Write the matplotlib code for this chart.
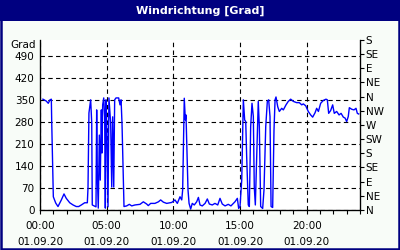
import matplotlib
matplotlib.use("Agg")
import matplotlib.pyplot as plt
from matplotlib.patches import Rectangle

# wind direction over the day (hours, degrees)
hours = [0.22, 0.47, 0.62, 0.75, 0.85, 0.88, 1.0, 1.18, 1.35, 1.6, 1.8, 1.97, 2.23,
         2.48, 2.72, 2.9, 3.1, 3.35, 3.55, 3.6, 3.67, 3.8, 3.88, 3.92, 4.2, 4.25,
         4.3, 4.37, 4.45, 4.52, 4.6, 4.65, 4.7, 4.78, 4.85, 4.9, 4.95, 5.02, 5.1,
         5.17, 5.3, 5.38, 5.45, 5.53, 5.6, 5.7, 5.9, 6.0, 6.08, 6.15, 6.3, 6.5,
         6.7, 6.88, 7.12, 7.5, 7.75, 8.0, 8.12, 8.3, 8.62, 8.88, 9.05, 9.25, 9.5,
         9.75, 9.88, 10.12, 10.3, 10.5, 10.63, 10.7, 10.82, 10.9, 10.95, 11.02,
         11.1, 11.18, 11.3, 11.42, 11.57, 11.75, 11.88, 12.0, 12.17, 12.38, 12.55,
         12.7, 12.92, 13.12, 13.33, 13.5, 13.67, 13.88, 14.12, 14.32, 14.5, 14.62,
         14.8, 14.9, 15.0, 15.13, 15.25, 15.35, 15.43, 15.5, 15.62, 15.7, 15.8,
         15.9, 16.0, 16.07, 16.15, 16.25, 16.37, 16.45, 16.55, 16.7, 16.8, 16.93,
         17.05, 17.15, 17.25, 17.33, 17.45, 17.55, 17.63, 17.7, 17.83, 17.95,
         18.13, 18.25, 18.45, 18.62, 18.8, 19.0, 19.25, 19.45, 19.63, 19.75,
         19.93, 20.12, 20.3, 20.45, 20.63, 20.75, 20.88, 21.05, 21.25, 21.45,
         21.55, 21.65, 21.8, 21.95, 22.07, 22.25, 22.43, 22.58, 22.75, 22.88,
         23.0, 23.12, 23.2, 23.38, 23.55, 23.7, 23.8, 23.9]
direction = [352, 346, 339, 350, 352, 277, 42, 22, 11, 32, 51, 37, 23,
             16, 11, 11, 16, 23, 23, 70, 308, 350, 276, 16, 10, 318,
             111, 6, 238, 95, 318, 181, 334, 356, 296, 6, 350, 245, 10,
             356, 276, 73, 296, 73, 350, 356, 356, 334, 350, 276, 11, 13,
             18, 13, 16, 18, 26, 19, 14, 21, 21, 26, 32, 25, 21,
             23, 24, 32, 21, 42, 32, 64, 355, 286, 302, 191,
             64, 21, 3, 21, 16, 26, 40, 16, 13, 21, 35,
             19, 16, 21, 16, 37, 19, 13, 18, 13, 21, 26,
             37, 5, 11, 95, 350, 286, 281, 170, 16, 11, 265,
             339, 297, 74, 16, 170, 345, 265, 11, 5, 64, 265,
             345, 350, 297, 11, 8, 254, 350, 359, 328, 313,
             323, 318, 334, 345, 352, 345, 341, 341, 334, 337,
             331, 313, 302, 295, 309, 323, 313, 339, 348, 352,
             350, 307, 316, 334, 307, 313, 302, 307, 295, 292,
             281, 297, 325, 320, 318, 323, 307, 305]

left_ticks = [0, 70, 140, 210, 280, 350, 420, 490]
compass_ticks = [0, 45, 90, 135, 180, 225, 270, 315, 360, 405, 450, 495, 540]
compass_labels = ["N", "NE", "E", "SE", "S", "SW", "W", "NW",
                  "N", "NE", "E", "SE", "S"]
major_hours = [0, 5, 10, 15, 20]
major_labels = ["00:00\n01.09.20", "05:00\n01.09.20", "10:00\n01.09.20",
                "15:00\n01.09.20", "20:00\n01.09.20"]

navy = "#000080"
fs = 7.5

fig = plt.figure(figsize=(4, 2.5), dpi=100, facecolor="#F8FCF8")
# title bar and frame
fig.patches.append(Rectangle((0, 0.918), 1, 0.082, transform=fig.transFigure,
                             facecolor=navy, edgecolor="none"))
fig.patches.append(Rectangle((0.003, 0.005), 0.994, 0.99, transform=fig.transFigure,
                             facecolor="none", edgecolor=navy, linewidth=1.8))
fig.text(0.5, 0.958, "Windrichtung [Grad]", color="white", fontsize=8,
         fontweight="bold", ha="center", va="center")

ax = fig.add_axes([0.1, 0.16, 0.8, 0.68])
ax.set_facecolor("white")
ax.plot(hours, direction, color="#0000FF", linewidth=1.0)

ax.set_xlim(0, 24)
ax.set_ylim(0, 540)
ax.set_yticks(left_ticks)
ax.set_yticklabels([str(v) for v in left_ticks], fontsize=fs)
ax.set_xticks(major_hours)
ax.set_xticklabels(major_labels, fontsize=fs, linespacing=1.75)
ax.set_xticks(range(0, 25), minor=True)
ax.tick_params(axis="y", length=0, pad=4)
ax.tick_params(axis="x", which="both", direction="out", length=3, width=0.8, pad=5)

for s in ["left", "bottom", "right"]:
    ax.spines[s].set_linewidth(0.9)
ax.spines["top"].set_visible(False)

ax.grid(True, color="black", linestyle=(0, (4, 3)), linewidth=0.8)
ax.set_axisbelow(True)

ax.text(-0.012, 525, "Grad", transform=ax.get_yaxis_transform(),
        ha="right", va="center", fontsize=fs)

ax2 = ax.twinx()
ax2.set_ylim(0, 540)
ax2.set_yticks(compass_ticks)
ax2.set_yticklabels(compass_labels, fontsize=fs)
ax2.tick_params(axis="y", direction="out", length=3, width=0.8, pad=1)
ax2.spines["top"].set_visible(False)

fig.savefig("out.png", dpi=100, facecolor=fig.get_facecolor())
